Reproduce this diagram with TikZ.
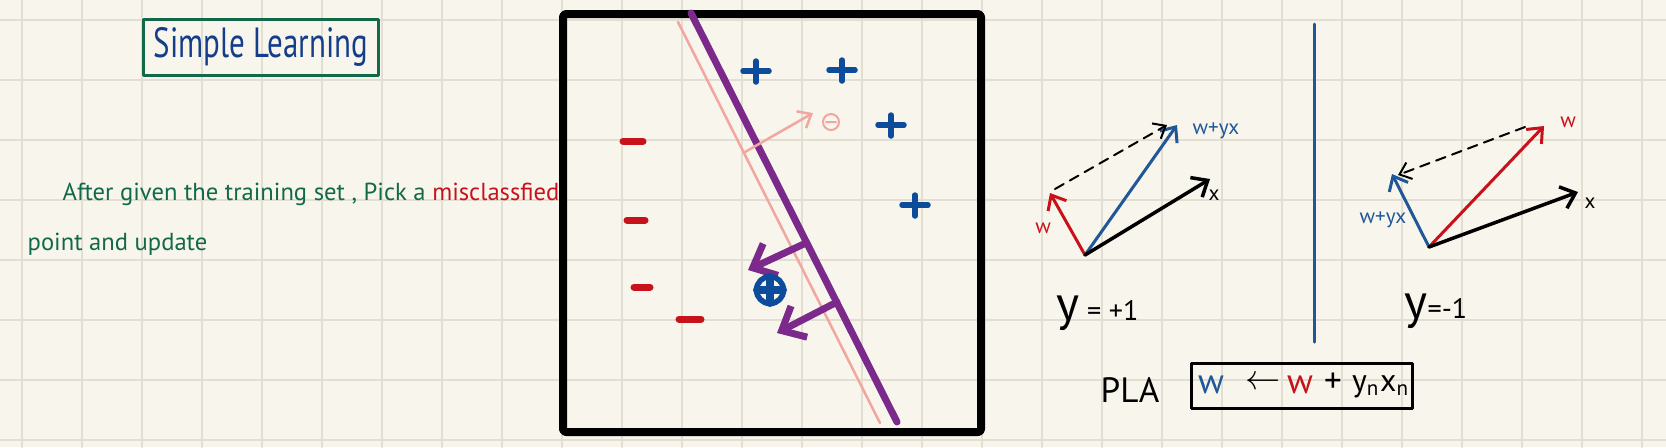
\documentclass[tikz,border=0pt]{standalone}
\usepackage{fontspec}
\setmainfont{PT Sans}
\usetikzlibrary{arrows.meta}

\definecolor{paper}{HTML}{F8F6EC}
\definecolor{gridgray}{HTML}{E2DED2}
\definecolor{notegreen}{HTML}{12694A}
\definecolor{titleblue}{HTML}{153E8A}
\definecolor{notered}{HTML}{C8121B}
\definecolor{linepurple}{HTML}{7B2A8C}
\definecolor{linepink}{HTML}{F2A6A0}
\definecolor{markblue}{HTML}{0D4C9A}
\definecolor{vecblue}{HTML}{1F5799}

\begin{document}
\begin{tikzpicture}[x=0.01cm, y=-0.01cm, line cap=round, line join=round,
    >={Straight Barb[length=2pt 1.8, width=3pt 3.5]},
    gridline/.style={gridgray, line width=0.02cm},
    plusmark/.style={markblue, line width=0.055cm},
    minusmark/.style={notered, line width=0.07cm},
    vec/.style={->, line width=0.03cm},
    helper/.style={->, line width=0.02cm, dash pattern=on 0.1cm off 0.07cm},
    small/.style={inner sep=0pt, font=\fontsize{6}{6}\selectfont},
    big/.style={inner sep=0pt, font=\fontsize{10}{10}\selectfont}]
    \useasboundingbox (0,0) rectangle (1666,447);
    % paper
    \fill[paper] (0,0) rectangle (1666,447);
    \foreach \gx in {22,82,...,1642} \draw[gridline] (\gx,0) to (\gx,447);
    \foreach \gy in {20,80,...,440} \draw[gridline] (0,\gy) to (1666,\gy);
    % title and note
    \node[draw=notegreen, line width=0.03cm, inner sep=1pt, minimum width=2.34cm, minimum height=0.56cm,
        text=titleblue, font=\fontsize{10}{10}\selectfont] (title) at (261,47)
        {\scalebox{0.88}[1.2]{Simple Learning}};
    \node[anchor=base west, inner sep=0pt, text=notegreen, font=\fontsize{7}{7}\selectfont] (note1) at (62,200)
        {After given the training set , Pick a \textcolor{notered}{misclassfied}};
    \node[anchor=base west, inner sep=0pt, text=notegreen, font=\fontsize{7}{7}\selectfont] (note2) at (27,250)
        {point and update};
    % data panel
    \draw[line width=0.08cm, rounded corners=0.03cm] (563,14) rectangle (981,432);
    \foreach \px/\py in {756/71, 842/70, 891/125, 915/205}
        \draw[plusmark] (\px-13,\py) to (\px+13,\py) (\px,\py-10) to (\px,\py+11);
    \foreach \mx/\my/\ml in {633/141/10, 636/220/9, 642/287/8, 690/319/11}
        \draw[minusmark] (\mx-\ml,\my) to (\mx+\ml,\my);
    % old and new boundary
    \coordinate (p0) at (678,22);
    \coordinate (p1) at (880,423);
    \coordinate (q0) at (691,13);
    \coordinate (q1) at (897,422);
    \draw[linepink, line width=0.025cm] (p0) to (p1);
    \draw[linepurple, line width=0.07cm] (q0) to (q1);
    \coordinate (a1) at (806,243);
    \coordinate (b1) at (748,270);
    \coordinate (a2) at (837,302);
    \coordinate (b2) at (777,333);
    \draw[->, linepurple, line width=0.07cm] (a1) to (b1);
    \draw[->, linepurple, line width=0.07cm] (a2) to (b2);
    \coordinate (n0) at (745,152);
    \coordinate (n1) at (813,113);
    \draw[->, linepink, line width=0.025cm] (n0) to (n1);
    \draw[linepink, line width=0.02cm] (831,122) circle (0.08cm) (826,122) to (836,122);
    % misclassified point
    \draw[markblue, line width=0.055cm] (770,290) circle (0.135cm);
    \draw[markblue, line width=0.08cm] (757,290) to (783,290) (770,277) to (770,303);
    % case y = +1
    \coordinate (o1) at (1085,255);
    \coordinate (w1) at (1050,193);
    \coordinate (s1) at (1177,125);
    \coordinate (x1) at (1210,179);
    \coordinate (d1) at (1055,189);
    \coordinate (e1) at (1167,125);
    \draw[vec, notered] (o1) to (w1);
    \draw[vec, vecblue] (o1) to (s1);
    \draw[vec, black, line width=0.035cm] (o1) to (x1);
    \draw[helper] (d1) to (e1);
    \node[small, text=notered] (lw1) at (1043,228) {w};
    \node[small, text=vecblue, anchor=west] (ls1) at (1192,131) {w+yx};
    \node[small] (lx1) at (1214,195) {x};
    \node[anchor=base west, inner sep=0pt, font=\fontsize{8}{8}\selectfont] (case1) at (1056,320)
        {{\fontsize{14}{14}\selectfont y} = +1};
    % divider
    \draw[vecblue, line width=0.03cm] (1314,24) to (1314,342);
    % case y = -1
    \coordinate (o2) at (1429,247);
    \coordinate (w2) at (1544,126);
    \coordinate (s2) at (1392,174);
    \coordinate (x2) at (1578,192);
    \coordinate (d2) at (1525,127);
    \coordinate (e2) at (1398,175);
    \draw[vec, notered] (o2) to (w2);
    \draw[vec, vecblue] (o2) to (s2);
    \draw[vec, black, line width=0.035cm] (o2) to (x2);
    \draw[helper] (d2) to (e2);
    \node[small, text=notered] (lw2) at (1568,122) {w};
    \node[small, text=vecblue] (ls2) at (1383,220) {w+yx};
    \node[small] (lx2) at (1590,203) {x};
    \node[anchor=base west, inner sep=0pt, font=\fontsize{8}{8}\selectfont] (case2) at (1404,318)
        {{\fontsize{14}{14}\selectfont y}=-1};
    % update rule
    \node[big] (pla) at (1130,390) {PLA};
    \node[draw, line width=0.03cm, minimum width=2.2cm, minimum height=0.45cm] (rule) at (1302,386) {};
    \node[big, text=vecblue] (lhs) at (1211,385) {w};
    \node[big] (gets) at (1263,383) {$\leftarrow$};
    \node[big, text=notered] (rhs) at (1300,385) {w};
    \node[big] (plus) at (1333,383) {+};
    \node[big, font=\fontsize{9}{9}\selectfont] (ynxn) at (1381,387) {y\textsubscript{n}x\textsubscript{n}};
\end{tikzpicture}
\end{document}
